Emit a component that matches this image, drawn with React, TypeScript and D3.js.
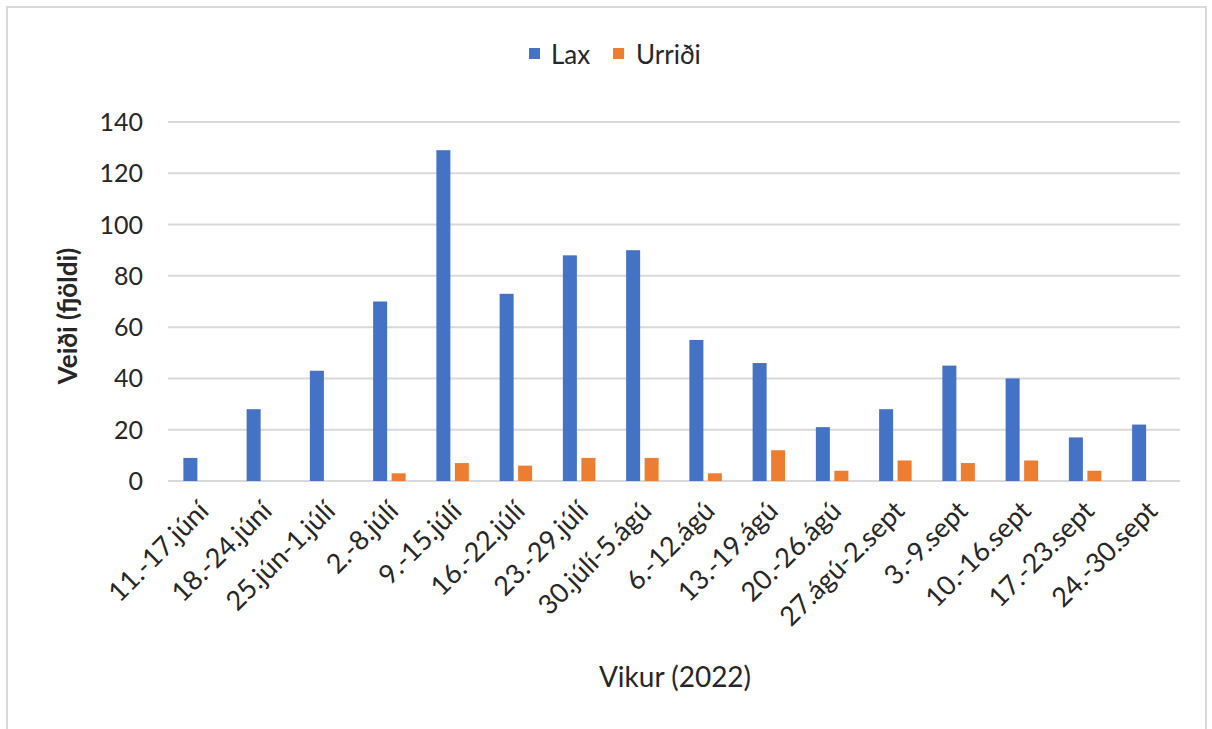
import React from "react";
import * as d3 from "d3";

const weeks = [
  "11.-17.júní", "18.-24.júní", "25.jún-1.júlí", "2.-8.júlí", "9.-15.júlí",
  "16.-22.júlí", "23.-29.júlí", "30.júlí-5.ágú", "6.-12.ágú", "13.-19.ágú",
  "20.-26.ágú", "27.ágú-2.sept", "3.-9.sept", "10.-16.sept", "17.-23.sept",
  "24.-30.sept",
];
const lax = [9, 28, 43, 70, 129, 73, 88, 90, 55, 46, 21, 28, 45, 40, 17, 22];
const urridi = [0, 0, 0, 3, 7, 6, 9, 9, 3, 12, 4, 8, 7, 8, 4, 0];
const seriesNames = ["Lax", "Urriði"];
const seriesColors = ["#4472c4", "#ed7d31"];
const yTicks = [0, 20, 40, 60, 80, 100, 120, 140];

const W = 1212;
const H = 729;
const plot = { left: 168, right: 1180, top: 122, bottom: 481 };
const font = "Lato, 'Liberation Sans', sans-serif";

export default function App() {
  const x = d3.scaleBand<string>().domain(weeks).range([plot.left, plot.right]);
  const inner = d3
    .scaleBand<string>()
    .domain(seriesNames)
    .range([0, 32.5])
    .paddingInner(0.243);
  const groupOffset = (x.bandwidth() - 32.5) / 2;
  const y = d3.scaleLinear().domain([0, 140]).range([plot.bottom, plot.top]);
  const values = [lax, urridi];

  return (
    <svg
      width={W}
      height={H}
      style={{ position: "absolute", left: 0, top: 0, background: "#fff" }}
      fontFamily={font}
    >
      <rect x={7} y={7} width={1199} height={740} fill="#fff" stroke="#d9d9d9" strokeWidth={2} />

      {/* legend */}
      <g>
        <rect x={529} y={48} width={11} height={11} fill={seriesColors[0]} />
        <text x={551} y={64} fontSize={26} fill="#262626">Lax</text>
        <rect x={613} y={48} width={11} height={11} fill={seriesColors[1]} />
        <text x={636} y={64} fontSize={26} fill="#262626">Urriði</text>
      </g>

      {/* gridlines + y labels */}
      {yTicks.map((t) => (
        <g key={t}>
          <line x1={plot.left} x2={plot.right} y1={y(t)} y2={y(t)} stroke="#d9d9d9" strokeWidth={2} />
          <text x={143} y={y(t)} dy="0.36em" textAnchor="end" fontSize={25} fill="#262626">
            {t}
          </text>
        </g>
      ))}

      {/* bars */}
      {weeks.map((w, i) => (
        <g key={w} transform={`translate(${(x(w) ?? 0) + groupOffset},0)`}>
          {seriesNames.map((s, j) => {
            const v = values[j][i];
            if (!v) return null;
            return (
              <rect
                key={s}
                x={inner(s)}
                y={y(v)}
                width={inner.bandwidth()}
                height={y(0) - y(v)}
                fill={seriesColors[j]}
              />
            );
          })}
        </g>
      ))}

      {/* x labels */}
      {weeks.map((w) => {
        const cx = (x(w) ?? 0) + x.bandwidth() / 2;
        return (
          <text
            key={w}
            transform={`translate(${cx + 4},${plot.bottom + 25}) rotate(-45)`}
            textAnchor="end"
            dy="0.35em"
            fontSize={27}
            fill="#262626"
          >
            {w}
          </text>
        );
      })}

      <text x={675} y={687} textAnchor="middle" fontSize={28} fill="#262626">
        Vikur (2022)
      </text>
      <text
        transform={`translate(77,316) rotate(-90)`}
        textAnchor="middle"
        fontSize={26}
        fontWeight="bold"
        fill="#262626"
      >
        Veiði (fjöldi)
      </text>
    </svg>
  );
}
